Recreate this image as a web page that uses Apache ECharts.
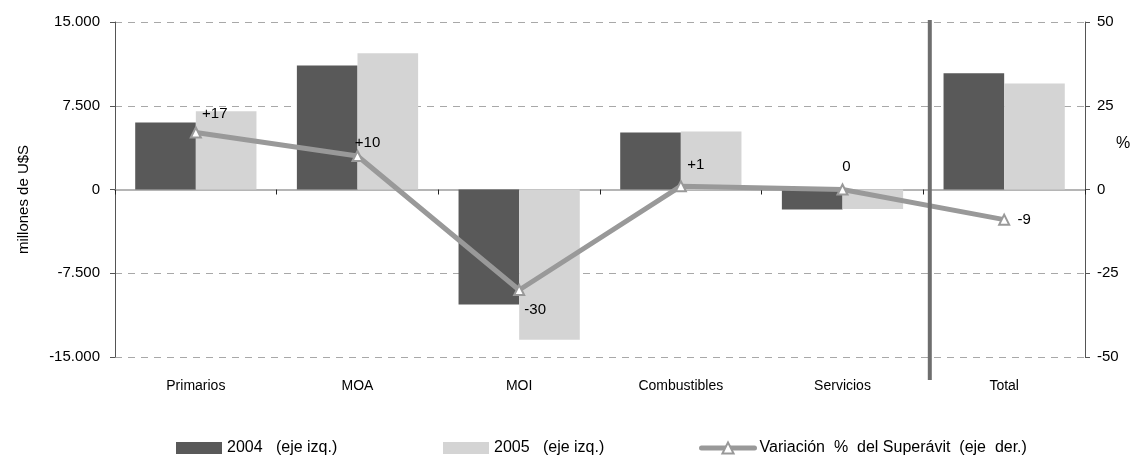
<!DOCTYPE html>
<html>
<head>
<meta charset="utf-8">
<script src="https://cdn.jsdelivr.net/npm/echarts@6/dist/echarts.min.js"></script>
<style>
  html, body { margin: 0; padding: 0; background: #fff; }
  #chart { width: 1133px; height: 458px; }
</style>
</head>
<body>
<div id="chart"></div>
<script>
// datos
const categories = ['Primarios', 'MOA', 'MOI', 'Combustibles', 'Servicios', 'Total']
const exp2004 = [6000, 11100, -10300, 5100, -1800, 10400]
const exp2005 = [7000, 12200, -13450, 5200, -1750, 9500]
const varSuperavit = [17, 10, -30, 1, 0, -9]
const leftTicks = { min: -15000, max: 15000, interval: 7500 }
const rightTicks = { min: -50, max: 50, interval: 25 }
const separatorAt = 5.04 // entre Servicios y Total

const NAME_2004 = '2004   (eje izq.)'
const NAME_2005 = '2005   (eje izq.)'
const NAME_VAR = 'Variación  %  del Superávit  (eje  der.)'

// desplazamiento de las etiquetas de la linea (px)
const labelOffsets = [[19, -19], [10, -13], [16, 20], [15, -21], [4, -23], [20, 0]]

const FONT = "'Liberation Sans', Arial, sans-serif"

const fmtMiles = v => {
  const s = Math.abs(v).toString().replace(/\B(?=(\d{3})+(?!\d))/g, '.')
  return (v < 0 ? '-' : '') + s
}
const fmtSign = v => (v > 0 ? '+' + v : '' + v)

let chart = echarts.init(document.getElementById('chart'))

let legendText = { fontSize: 16, color: '#000', fontFamily: FONT }

let option = {
  animation: false,
  textStyle: { fontFamily: FONT, color: '#000' },
  // nombre del eje derecho
  title: {
    text: '%',
    left: 1116,
    top: 136,
    padding: 0,
    textStyle: { fontSize: 16, fontWeight: 'normal', color: '#000', fontFamily: FONT }
  },
  grid: { left: 115, right: 48, top: 22, bottom: 101 },
  legend: [
    {
      data: [{ name: NAME_2004, icon: 'rect' }],
      left: 176, top: 440, padding: 0,
      itemWidth: 46, itemHeight: 12,
      textStyle: legendText
    },
    {
      data: [{ name: NAME_2005, icon: 'rect' }],
      left: 443, top: 440, padding: 0,
      itemWidth: 46, itemHeight: 12,
      textStyle: legendText
    },
    {
      data: [NAME_VAR],
      left: 699, top: 440, padding: 0,
      itemWidth: 53, itemHeight: 14,
      lineStyle: { width: 5, color: '#999', cap: 'round' },
      itemStyle: { color: '#fff', borderColor: '#999', borderWidth: 2 },
      textStyle: legendText
    }
  ],
  xAxis: [
    {
      // eje en el cero, con marcas entre categorias
      type: 'category',
      data: categories,
      position: 'bottom',
      axisLine: { onZero: true, onZeroAxisIndex: 0, lineStyle: { color: '#b5b5b5', width: 2 } },
      axisTick: { show: true, length: 5, lineStyle: { color: '#222' } },
      axisLabel: { show: false },
      splitLine: { show: false }
    },
    {
      // etiquetas abajo
      type: 'category',
      data: categories,
      position: 'bottom',
      axisLine: { show: false, onZero: false },
      axisTick: { show: false },
      axisLabel: { margin: 22, fontSize: 14, color: '#000', fontFamily: FONT },
      splitLine: { show: false }
    },
    {
      type: 'value', min: 0, max: categories.length, show: false
    }
  ],
  yAxis: [
    {
      type: 'value',
      position: 'left',
      min: leftTicks.min, max: leftTicks.max, interval: leftTicks.interval,
      name: 'millones de U$S',
      nameLocation: 'middle',
      nameGap: 84,
      nameTextStyle: { fontSize: 15, color: '#000', fontFamily: FONT, padding: [0, 20, 0, 0] },
      axisLine: { show: true, lineStyle: { color: '#555', width: 1 } },
      axisTick: { show: true, length: 5, lineStyle: { color: '#555' } },
      axisLabel: { fontSize: 15, color: '#000', margin: 15, formatter: fmtMiles, fontFamily: FONT },
      splitLine: { show: true, lineStyle: { color: '#a8a8a8', type: [7, 6], width: 1 } }
    },
    {
      type: 'value',
      position: 'right',
      min: rightTicks.min, max: rightTicks.max, interval: rightTicks.interval,
      axisLine: { show: true, lineStyle: { color: '#555', width: 1 } },
      axisTick: { show: true, length: 5, lineStyle: { color: '#555' } },
      axisLabel: { fontSize: 15, color: '#000', margin: 12, fontFamily: FONT },
      splitLine: { show: false }
    }
  ],
  series: [
    {
      name: NAME_2004,
      type: 'bar',
      xAxisIndex: 0,
      yAxisIndex: 0,
      data: exp2004,
      barGap: '0%',
      barCategoryGap: '25%',
      itemStyle: { color: '#595959' }
    },
    {
      name: NAME_2005,
      type: 'bar',
      xAxisIndex: 0,
      yAxisIndex: 0,
      data: exp2005,
      barGap: '0%',
      barCategoryGap: '25%',
      itemStyle: { color: '#d4d4d4' }
    },
    {
      name: NAME_VAR,
      type: 'line',
      xAxisIndex: 0,
      yAxisIndex: 1,
      z: 4,
      data: varSuperavit.map((v, i) => ({
        value: v,
        label: { offset: labelOffsets[i] }
      })),
      symbol: 'triangle',
      symbolSize: 10,
      lineStyle: { color: '#999', width: 5 },
      itemStyle: { color: '#fff', borderColor: '#999', borderWidth: 2 },
      label: {
        show: true,
        position: 'inside',
        color: '#000',
        fontSize: 15,
        fontFamily: FONT,
        formatter: p => fmtSign(p.value)
      }
    },
    {
      // barra vertical que separa el Total
      type: 'custom',
      xAxisIndex: 2,
      yAxisIndex: 0,
      silent: true,
      z: 5,
      data: [[separatorAt, 0]],
      renderItem: (params, api) => {
        const x = api.coord([api.value(0), 0])[0]
        const cs = params.coordSys
        return {
          type: 'line',
          shape: { x1: x, y1: cs.y - 2, x2: x, y2: cs.y + cs.height + 23 },
          style: { stroke: '#6e6e6e', lineWidth: 4 }
        }
      }
    }
  ]
}

chart.setOption(option)
</script>
</body>
</html>
